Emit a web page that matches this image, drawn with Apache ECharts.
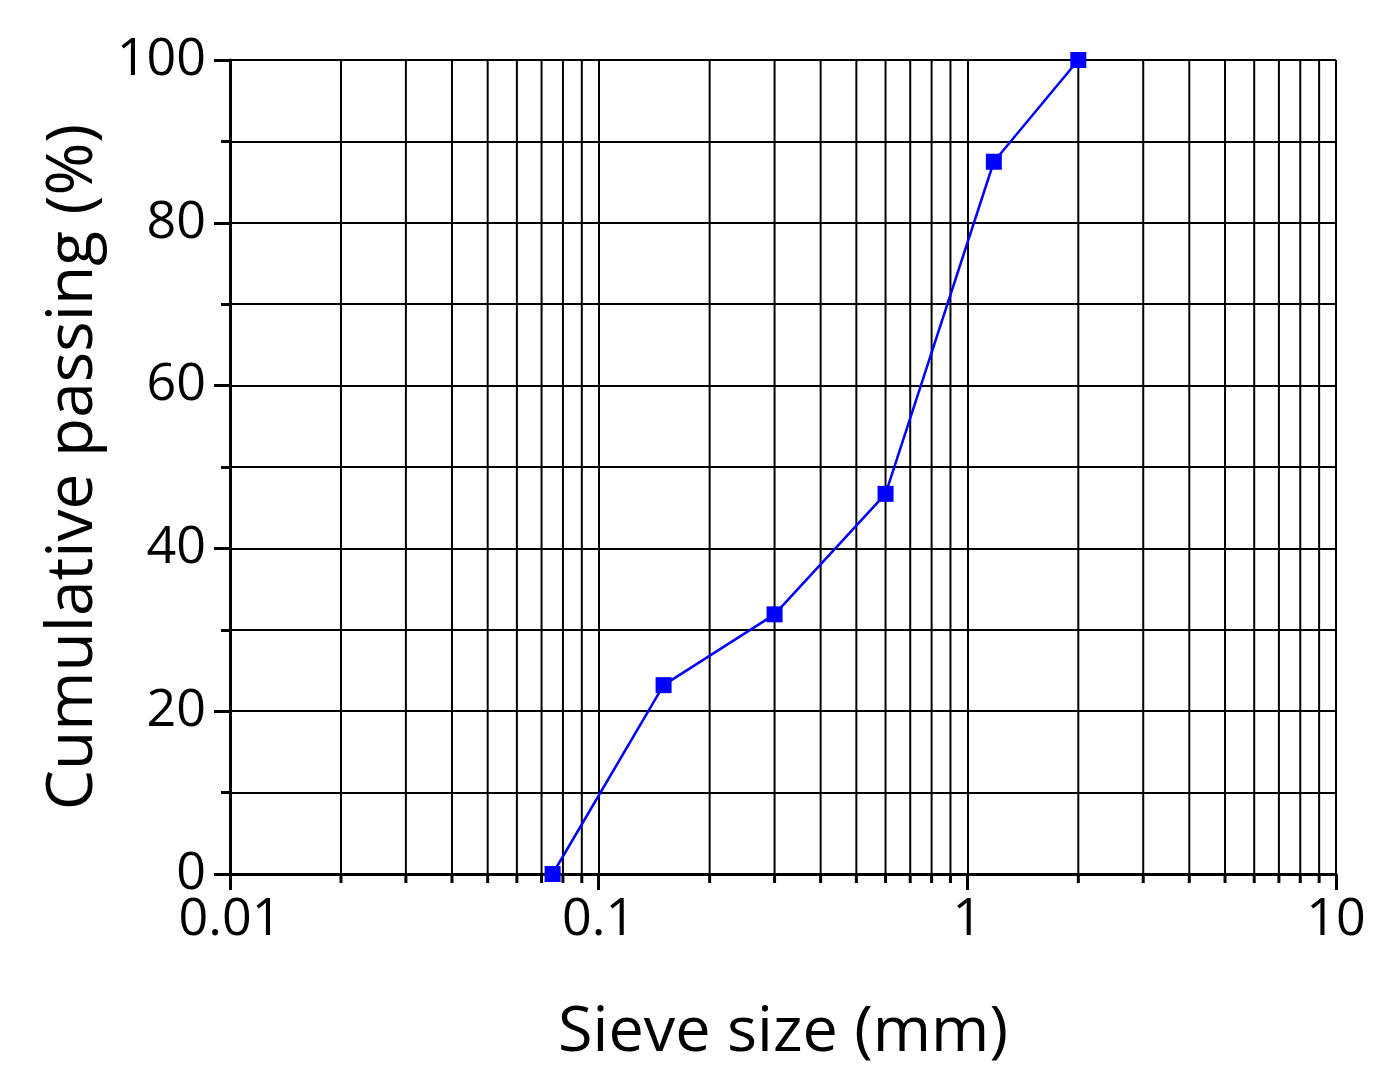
<!DOCTYPE html>
<html>
<head>
<meta charset="utf-8">
<script src="https://cdn.jsdelivr.net/npm/echarts@6/dist/echarts.min.js"></script>
<style>
  html, body { margin: 0; padding: 0; background: #fff; }
  #main { width: 1386px; height: 1092px; }
</style>
</head>
<body>
<div id="main"></div>
<script>
// sieve sizes (mm) and cumulative passing (%)
var sieveSize = [0.075, 0.15, 0.3, 0.6, 1.18, 2];
var passing = [0, 23.2, 31.9, 46.7, 87.5, 100];
// minor decade positions on the log axis (2..9 of each decade)
var minorX = [0.02, 0.03, 0.04, 0.05, 0.06, 0.07, 0.08, 0.09,
              0.2, 0.3, 0.4, 0.5, 0.6, 0.7, 0.8, 0.9,
              2, 3, 4, 5, 6, 7, 8, 9];

var myChart = echarts.init(document.getElementById('main'));
var font = "'Open Sans', 'Noto Sans', sans-serif";

var option = {
  backgroundColor: '#fff',
  animation: false,
  grid: { left: 230, right: 50, top: 60, bottom: 218, outerBoundsMode: 'none', containLabel: false },
  xAxis: {
    type: 'log',
    logBase: 10,
    min: 0.01,
    max: 10,
    name: 'Sieve size (mm)',
    nameLocation: 'middle',
    nameGap: 128,
    nameTextStyle: { fontSize: 63, fontFamily: font, color: '#000' },
    axisLine: { show: true, lineStyle: { color: '#000', width: 3 } },
    axisTick: { show: true, inside: false, length: 16, lineStyle: { color: '#000', width: 3 } },
    axisLabel: {
      fontSize: 52, fontFamily: font, color: '#000', margin: 20,
      formatter: function (v) { return String(v); }
    },
    splitLine: { show: true, lineStyle: { color: '#000', width: 2 } }
  },
  yAxis: {
    type: 'value',
    min: 0,
    max: 100,
    interval: 20,
    name: 'Cumulative passing (%)',
    nameLocation: 'middle',
    nameGap: 120,
    nameTextStyle: { fontSize: 64, fontFamily: font, color: '#000' },
    axisLine: { show: true, lineStyle: { color: '#000', width: 3 } },
    axisTick: { show: true, inside: false, length: 16, lineStyle: { color: '#000', width: 3 } },
    minorTick: { show: true, splitNumber: 2, length: 9, lineStyle: { color: '#000', width: 3 } },
    axisLabel: { fontSize: 52, fontFamily: font, color: '#000', margin: 24 },
    splitLine: { show: true, lineStyle: { color: '#000', width: 2 } },
    minorSplitLine: { show: true, lineStyle: { color: '#000', width: 2 } }
  },
  series: [
    {
      // minor vertical grid lines and minor ticks of the log axis
      type: 'custom',
      silent: true,
      z: 1,
      data: minorX.map(function (v) { return [v, 0]; }),
      renderItem: function (params, api) {
        var bottom = api.coord([api.value(0), 0]);
        var top = api.coord([api.value(0), 100]);
        return {
          type: 'group',
          children: [
            {
              type: 'line',
              shape: { x1: bottom[0], y1: bottom[1], x2: top[0], y2: top[1] },
              style: { stroke: '#000', lineWidth: 2 }
            },
            {
              type: 'line',
              shape: { x1: bottom[0], y1: bottom[1], x2: bottom[0], y2: bottom[1] + 9 },
              style: { stroke: '#000', lineWidth: 3 }
            }
          ]
        };
      }
    },
    {
      name: 'Passing',
      type: 'line',
      z: 3,
      data: sieveSize.map(function (s, i) { return [s, passing[i]]; }),
      symbol: 'rect',
      symbolSize: 16,
      clip: false,
      itemStyle: { color: '#0000ff' },
      lineStyle: { color: '#0000ff', width: 2.5 }
    }
  ]
};
myChart.setOption(option);
</script>
</body>
</html>
